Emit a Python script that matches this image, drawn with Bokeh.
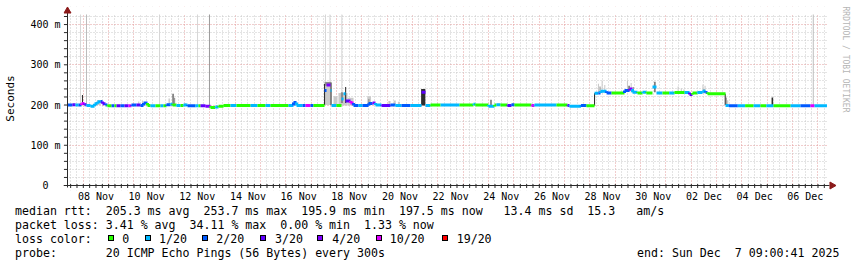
import math
from datetime import datetime, timedelta
from bokeh.plotting import figure
from bokeh.models import Range1d, FixedTicker, DatetimeTickFormatter, Title, ColumnDataSource, Div
from bokeh.layouts import column
from bokeh.embed import file_html
from bokeh.resources import INLINE

# ---------------- data ----------------
START = datetime(2025, 11, 7, 9, 0, 41)
END = datetime(2025, 12, 7, 9, 0, 41)

# median rtt (ms), step segments: start (hours after START), value, loss class index
med_start_h = [0.0, 4.7, 7.6, 10.4, 13.3, 16.1, 18.0, 21.8, 25.6, 28.4, 31.3, 33.2, 36.0, 37.9,
               41.7, 44.5, 46.4, 50.2, 54.0, 57.8, 60.6, 65.4, 69.2, 72.0, 75.8, 78.6, 83.4,
               88.1, 90.9, 93.8, 97.6, 99.5, 103.3, 107.1, 109.9, 113.7, 121.3, 124.1, 126.0,
               130.7, 135.5, 140.0, 143.1, 147.8, 154.4, 160.1, 173.4, 180.0, 187.6, 192.3,
               209.4, 214.1, 217.0, 222.6, 225.5, 230.2, 233.0, 243.5, 245.4, 249.2, 250.1,
               254.8, 259.6, 261.5, 263.4, 268.1, 271.0, 275.7, 279.5, 285.2, 289.0, 291.8,
               297.5, 306.0, 310.7, 316.4, 325.0, 335.4, 339.2, 343.9, 353.4, 371.4, 384.6,
               386.5, 398.8, 404.5, 406.4, 410.2, 416.8, 420.6, 423.5, 439.6, 442.4, 463.3,
               473.7, 475.6, 486.5, 491.7, 499.3, 503.0, 505.0, 510.7, 515.4, 527.7, 532.5,
               535.3, 540.0, 544.8, 548.5, 554.2, 558.0, 563.7, 570.0, 575.1, 584.6, 589.3,
               592.1, 596.8, 601.6, 604.5, 606.3, 623.4, 626.5, 635.0, 642.0, 650.0, 656.5,
               662.0, 668.9, 685.0, 694.4, 703.9, 707.7]
med_ms = [200, 201, 200, 200, 204, 201, 199, 197, 203, 208, 209, 203, 200, 198,
          198, 198, 198, 198, 198, 198, 200, 200, 199, 205, 199, 198, 198,
          198, 198, 201, 202, 200, 199, 199, 200, 198, 198, 198, 198,
          197, 194, 195, 197, 199, 199, 199, 199, 199, 199, 199,
          199, 206, 199, 199, 199, 199, 199, 236, 250, 236, 199,
          199, 215, 228, 210, 205, 199, 199, 199, 204, 205, 200,
          199, 200, 199, 199, 199, 232, 199, 200, 200, 200, 202,
          200, 197, 200, 201, 200, 199, 201, 200, 199, 200, 200,
          199, 197, 199, 198, 229, 230, 234, 230, 230, 236, 240,
          232, 230, 232, 230, 245, 230, 230, 230, 231, 231, 226,
          230, 231, 234, 231, 228, 199, 198, 198, 198, 198, 198,
          198, 198, 198, 198, 198, 198]
med_loss = [2, 3, 1, 2, 5, 3, 1, 1, 1, 1, 2, 3, 2, 0,
            2, 0, 3, 2, 3, 5, 2, 3, 2, 2, 0, 1, 0,
            1, 0, 2, 1, 0, 1, 0, 1, 2, 1, 0, 3,
            4, 0, 1, 0, 0, 1, 0, 1, 0, 1, 0,
            1, 2, 1, 2, 5, 2, 0, 2, 4, 1, 1,
            0, 1, 1, 3, 5, 2, 1, 2, 2, 4, 1,
            3, 2, 1, 2, 1, 3, 1, 0, 1, 0, 1,
            0, 1, 0, 1, 0, 3, 2, 0, 5, 1, 0,
            3, 1, 2, 0, 1, 2, 1, 2, 0, 2, 4,
            1, 0, 1, 0, 1, 1, 0, 1, 0, 1, 3,
            0, 1, 1, 2, 0, 1, 2, 1, 0, 1, 0,
            1, 0, 1, 2, 5, 1]
MED_END_H = 719.5

# smoke (spread of the 20 pings): start h, end h, low ms, high ms, shade 0 light / 1 mid / 2 dark
smoke_h0 = [13.7, 28.0, 67.0, 70.5, 95.7, 99.5, 101.0, 111.5,
            243.0, 244.0, 243.0, 249.2, 252.0, 256.7, 259.0, 263.0, 265.3, 284.0, 285.0,
            304.0, 309.0, 313.0, 335.0, 350.0, 400.7, 498.8,
            502.5, 504.0, 506.0, 508.5, 530.0, 531.5, 533.5, 535.5, 556.0,
            578.0, 581.0, 583.5, 601.5, 602.5, 603.5, 622.6, 623.6, 624.6, 667.0]
smoke_h1 = [14.7, 31.5, 68.0, 71.5, 97.0, 100.5, 102.0, 112.5,
            250.1, 249.2, 244.0, 250.1, 255.8, 265.3, 261.0, 264.0, 271.0, 287.5, 286.0,
            306.0, 311.0, 315.0, 339.0, 351.0, 401.7, 499.8,
            503.5, 505.0, 507.0, 509.5, 531.0, 532.5, 534.5, 536.5, 557.0,
            579.0, 582.0, 584.5, 602.5, 603.5, 604.5, 623.6, 624.6, 626.0, 668.5]
smoke_lo = [200, 200, 199, 199, 199, 199, 199, 199,
            200, 248, 200, 200, 199, 199, 205, 205, 199, 199, 199,
            199, 199, 199, 199, 200, 199, 199,
            229, 229, 229, 229, 232, 236, 232, 230, 232,
            230, 230, 230, 229, 229, 229, 200, 199, 199, 196]
smoke_hi = [225, 212, 209, 211, 216, 228, 218, 205,
            258, 257, 252, 256, 222, 230, 232, 245, 218, 222, 215,
            210, 211, 208, 240, 204, 213, 229,
            253, 246, 261, 250, 261, 248, 255, 245, 258,
            246, 242, 239, 251, 240, 248, 228, 219, 212, 219]
smoke_shade = [2, 0, 0, 0, 0, 2, 1, 0,
               0, 1, 2, 2, 0, 0, 1, 2, 0, 0, 1,
               0, 0, 0, 2, 0, 2, 2,
               0, 1, 0, 0, 0, 2, 0, 1, 2,
               0, 0, 0, 0, 1, 0, 2, 1, 0, 2]

# single pings that ran off the top of the graph
tall_h = [12.3, 18.0, 87.2, 123.2, 134.5, 244.4, 248.6, 259.9, 706.5]
tall_shade = [0, 1, 0, 0, 2, 0, 0, 0, 1]

loss_labels = ["0", "1/20", "2/20", "3/20", "4/20", "10/20", "19/20"]
loss_colors = ["#26ff00", "#00b8ff", "#0059ff", "#5e00ff", "#7e00ff", "#dd00ff", "#ff0000"]

y_ticks = [0, 100, 200, 300, 400]
y_tick_labels = ["0", "100 m", "200 m", "300 m", "400 m"]
x_label_days = ["2025-11-08", "2025-11-10", "2025-11-12", "2025-11-14", "2025-11-16",
                "2025-11-18", "2025-11-20", "2025-11-22", "2025-11-24", "2025-11-26",
                "2025-11-28", "2025-11-30", "2025-12-02", "2025-12-04", "2025-12-06"]

rtt_label = "median rtt:"
rtt_stats = ["205.3 ms avg", "253.7 ms max", "195.9 ms min", "197.5 ms now", "13.4 ms sd", "15.3", "am/s"]
loss_label = "packet loss:"
loss_stats = ["3.41 % avg", "34.11 % max", "0.00 % min", "1.33 % now"]
color_label = "loss color:"
probe_label = "probe:"
probe_text = "20 ICMP Echo Pings (56 Bytes) every 300s"
end_text = "end: Sun Dec  7 09:00:41 2025"
watermark = "RRDTOOL / TOBI OETIKER"

# ---------------- helpers ----------------
EPOCH = datetime(1970, 1, 1)


def ms_of(dt):
    return (dt - EPOCH).total_seconds() * 1000.0


def h2x(h):
    return ms_of(START) + h * 3600000.0


Y_TOP = 425.0
PX_H = 720.0 / 760.0          # hours per pixel
PX_MS = 1 / 0.4025            # ms per pixel
X_LO = h2x(-4 * PX_H)
X_HI = h2x(720 + 9 * PX_H)
Y_LO = -5 * PX_MS
Y_HI = Y_TOP + 8 * PX_MS
X0, X1 = ms_of(START), ms_of(END)

# ---------------- main plot ----------------
p = figure(frame_width=773, frame_height=184, x_axis_type="datetime",
           x_range=Range1d(X_LO, X_HI), y_range=Range1d(Y_LO, Y_HI),
           output_backend="svg", toolbar_location=None,
           min_border_left=63, min_border_right=21, min_border_top=6, min_border_bottom=17)
p.outline_line_color = None
p.background_fill_color = "white"
p.border_fill_color = "white"

# ticks / grid
noon_ticks = [ms_of(datetime.strptime(d, "%Y-%m-%d") + timedelta(hours=12)) for d in x_label_days]
six_h = []
t = datetime(2025, 11, 7, 12, 0, 0)
while t < END:
    six_h.append(t)
    t += timedelta(hours=6)
midnights = [ms_of(t) for t in six_h if t.hour == 0]
six_minor = [ms_of(t) for t in six_h if t.hour != 0]

p.xaxis.ticker = FixedTicker(ticks=noon_ticks)
p.xgrid.ticker = FixedTicker(ticks=midnights, minor_ticks=six_minor)
fmt = "%d %b"
p.xaxis.formatter = DatetimeTickFormatter(days=fmt, hours=fmt, months=fmt, hourmin=fmt,
                                          minutes=fmt, minsec=fmt, seconds=fmt, years=fmt,
                                          milliseconds=fmt, microseconds=fmt)

y_minor = list(range(20, 421, 20))
p.yaxis.ticker = FixedTicker(ticks=y_ticks)
p.ygrid.ticker = FixedTicker(ticks=y_ticks, minor_ticks=[v for v in y_minor if v % 100])
nb = "\u00a0"
p.yaxis.major_label_overrides = {v: (lab if " " in lab else lab + nb + nb)
                                 for v, lab in zip(y_ticks, y_tick_labels)}

for g in (p.xgrid, p.ygrid):
    g.grid_line_color = "#e29a9a"
    g.grid_line_dash = "1 2"
    g.grid_line_width = 1
    g.minor_grid_line_color = "#c8c8c8"
    g.minor_grid_line_dash = "1 2"
    g.minor_grid_line_width = 1

AX = "#2a2a2a"
for ax in (p.xaxis, p.yaxis):
    ax.axis_line_color = None
    ax.major_tick_line_color = None
    ax.minor_tick_line_color = None
    ax.major_tick_out = 0
    ax.major_tick_in = 0
    ax.minor_tick_out = 0
    ax.minor_tick_in = 0
    ax.major_label_text_font = "DejaVu Sans Mono"
    ax.major_label_text_font_size = "10px"
    ax.major_label_text_color = "#000000"
p.xaxis.major_label_standoff = 0
p.yaxis.major_label_standoff = 3
p.yaxis.axis_label = "Seconds"
p.yaxis.axis_label_text_font = "DejaVu Sans Mono"
p.yaxis.axis_label_text_font_size = "11px"
p.yaxis.axis_label_text_font_style = "normal"
p.yaxis.axis_label_text_color = "#000000"
p.yaxis.axis_label_standoff = 10

# white margins around the graph area (hide grid outside it)
p.quad(left=[X_LO, X_LO, X_LO, X1], right=[X_HI, X0, X_HI, X_HI],
       bottom=[Y_TOP, Y_LO, Y_LO, Y_LO], top=[Y_HI, Y_HI, 0, Y_HI],
       fill_color="white", line_color=None)

# tall lines
tall_cols = ["#d6d6d6", "#bcbcbc", "#9c9c9c"]
p.segment(x0=[h2x(h) for h in tall_h], x1=[h2x(h) for h in tall_h],
          y0=[200] * len(tall_h), y1=[Y_TOP] * len(tall_h),
          line_color=[tall_cols[s] for s in tall_shade], line_width=1)

# smoke
smoke_cols = ["#cacaca", "#8c8c8c", "#2e2e2e"]
order = sorted(range(len(smoke_h0)), key=lambda i: smoke_shade[i])
p.quad(left=[h2x(smoke_h0[i]) for i in order], right=[h2x(smoke_h1[i]) for i in order],
       bottom=[smoke_lo[i] for i in order], top=[smoke_hi[i] for i in order],
       fill_color=[smoke_cols[smoke_shade[i]] for i in order], line_color=None)

# median line
ends = med_start_h[1:] + [MED_END_H]
hs = ColumnDataSource(dict(x0=[h2x(h) for h in med_start_h], x1=[h2x(h) for h in ends],
                           y=med_ms, c=[loss_colors[k] for k in med_loss]))
p.segment(x0="x0", x1="x1", y0="y", y1="y", line_color="c", line_width=3, line_cap="butt", source=hs)
vx, vy0, vy1, vc = [], [], [], []
for i in range(1, len(med_start_h)):
    if med_ms[i] != med_ms[i - 1] and abs(med_ms[i] - med_ms[i - 1]) <= 8:
        vx.append(h2x(med_start_h[i]))
        vy0.append(med_ms[i - 1])
        vy1.append(med_ms[i])
        vc.append(loss_colors[med_loss[i]])
p.segment(x0=vx, x1=vx, y0=vy0, y1=vy1, line_color=vc, line_width=3, line_cap="butt")

# axis lines, tick marks and arrows (graph area coordinates)
xt = [ms_of(t) for t in six_h]
p.segment(x0=xt, x1=xt, y0=[-2.5 * PX_MS] * len(xt), y1=[1.5 * PX_MS] * len(xt),
          line_color=AX, line_width=1)
yt = list(range(0, 421, 20))
p.segment(x0=[h2x(-3.5 * PX_H)] * len(yt), x1=[h2x(0.5 * PX_H)] * len(yt), y0=yt, y1=yt,
          line_color=AX, line_width=1)
p.segment(x0=[X_LO, X0], x1=[h2x(720 + 2 * PX_H), X0], y0=[0, -2 * PX_MS],
          y1=[0, Y_TOP + 3 * PX_MS], line_color=AX, line_width=1)
ARROW = "#8b1a1a"
p.scatter(x=[X0, h2x(720 + 4.5 * PX_H)], y=[Y_TOP + 3.5 * PX_MS, 0],
          marker="triangle", size=7, angle=[0, -math.pi / 2],
          fill_color=ARROW, line_color=ARROW)

# watermark
p.add_layout(Title(text=watermark, align="left", text_font="DejaVu Sans Mono",
                   text_font_size="8px", text_font_style="normal", text_color="#b5b5b5",
                   standoff=9), "right")

# ---------------- legend (text block under the graph) ----------------
def at_cols(pieces, cols):
    s = ""
    for piece, c in zip(pieces, cols):
        s = s.ljust(c) + piece
    return s


line1 = at_cols([rtt_label] + rtt_stats, [0, 13, 27, 41, 55, 70, 82, 89])
line2 = at_cols([loss_label] + loss_stats, [0, 13, 25, 38, 50])
line4 = at_cols([probe_label, probe_text], [0, 13])

TOP0 = 207.0
ASC = 11.0
base = [215.3, 229.0, 243.0, 256.5]
tops = [b - TOP0 - ASC for b in base]
font = "font-family:'DejaVu Sans Mono';font-size:11.6px;line-height:14px;white-space:pre;color:#000;"


def span(txt, left, top):
    return f'<div style="position:absolute;left:{left}px;top:{top:.1f}px;{font}">{txt}</div>'


parts = [span(line1, 15, tops[0]), span(line2, 15, tops[1]), span(color_label, 15, tops[2]),
         span(line4, 15, tops[3]), span(end_text, 637, tops[3])]
box_left = [108, 145, 202, 260, 317, 376, 442]
lab_x = [122.3, 159.0, 216.3, 275.0, 332.3, 389.7, 456.7]
for c, bl, lab, lx in zip(loss_colors, box_left, loss_labels, lab_x):
    parts.append(f'<div style="position:absolute;left:{bl}px;top:{235 - TOP0}px;width:6px;height:6px;'
                 f'border:1px solid #000;background:{c};"></div>')
    parts.append(span(lab, lx, tops[2]))

legend = Div(text='<div style="position:relative;width:857px;height:60px;background:#fff;">'
                  + "".join(parts) + "</div>",
             width=857, height=60, margin=(0, 0, 0, 0))

layout = column(p, legend, spacing=0)
open("out.html", "w").write(file_html(layout, INLINE))
